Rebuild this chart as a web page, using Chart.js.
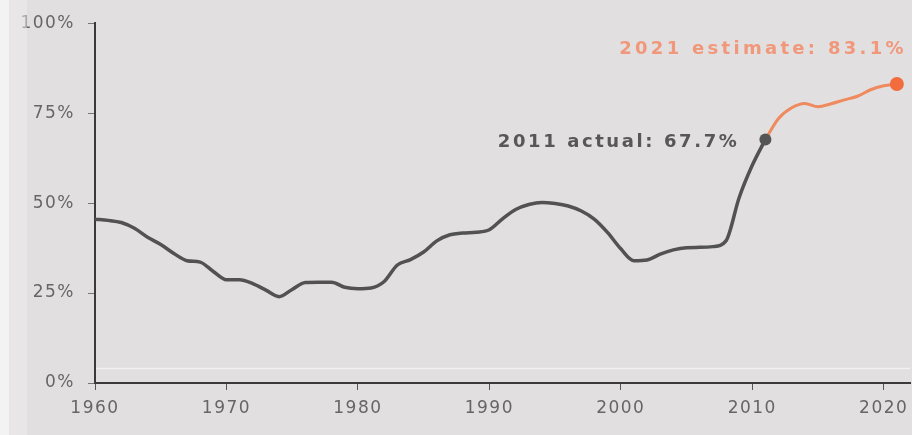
<!DOCTYPE html>
<html>
<head>
<meta charset="utf-8">
<script src="https://cdn.jsdelivr.net/npm/chart.js@4"></script>
<style>
    html, body {
        margin: 0;
        padding: 0;
        background: #ffffff;
    }
    #wrap {
        width: 919px;
        height: 435px;
    }
</style>
</head>
<body>
<div id="wrap">
    <canvas id="shareChart" width="919" height="435"></canvas>
</div>
<script>
// Actual share, 1960 - 2011
const actualYears = [
    1960, 1961, 1962, 1963, 1964, 1965, 1966, 1967, 1968, 1969,
    1970, 1971, 1972, 1973, 1974, 1975, 1976, 1977, 1978, 1979,
    1980, 1981, 1982, 1983, 1984, 1985, 1986, 1987, 1988, 1989,
    1990, 1991, 1992, 1993, 1994, 1995, 1996, 1997, 1998, 1999,
    2000, 2001, 2002, 2003, 2004, 2005, 2006, 2007, 2008, 2009,
    2010, 2011
];
const actualShare = [
    45.5, 45.2, 44.6, 43.0, 40.5, 38.5, 36.0, 34.0, 33.6, 31.0,
    28.7, 28.7, 27.6, 25.8, 24.0, 26.0, 27.9, 28.0, 28.0, 26.6,
    26.2, 26.4, 28.2, 32.8, 34.3, 36.4, 39.5, 41.2, 41.7, 41.9,
    42.6, 45.6, 48.2, 49.6, 50.2, 49.9, 49.2, 47.8, 45.5, 41.8,
    37.3, 34.0, 34.2, 35.8, 37.0, 37.6, 37.7, 37.9, 39.5, 51.5,
    60.5, 67.7
];

// Estimated share, 2011 - 2021
const estimateYears = [2011, 2012, 2013, 2014, 2015, 2016, 2017, 2018, 2019, 2020, 2021];
const estimateShare = [67.7, 73.5, 76.5, 77.7, 76.8, 77.6, 78.7, 79.7, 81.5, 82.6, 83.1];

const xTicks = [1960, 1970, 1980, 1990, 2000, 2010, 2020];
const yTicks = [0, 25, 50, 75, 100];

const actualLabel = "2011 actual: " + actualShare[actualShare.length - 1] + "%";
const estimateLabel = "2021 estimate: " + estimateShare[estimateShare.length - 1] + "%";

const grayLine = "#525252";
const orangeLine = "#ef8a5e";
const orangeDot = "#f26c3e";

function toPoints(xs, ys) {
    return xs.map((x, i) => ({ x: x, y: ys[i] }));
}

function lastOnly(size) {
    return ctx => ctx.dataIndex === ctx.dataset.data.length - 1 ? size : 0;
}

// Panel colour, the faint baseline rule and the light strip on the left edge
const panel = {
    id: "panel",
    beforeDraw(chart) {
        const c = chart.ctx;
        const area = chart.chartArea;
        c.save();
        c.fillStyle = "#e2dfe0";
        c.fillRect(0, 0, 912, chart.height);
        const ruleY = chart.scales.y.getPixelForValue(4);
        c.strokeStyle = "rgba(255,255,255,0.55)";
        c.lineWidth = 1.5;
        c.beginPath();
        c.moveTo(area.left, ruleY);
        c.lineTo(area.right, ruleY);
        c.stroke();
        c.restore();
        c.letterSpacing = "1.5px";
    },
    afterDraw(chart) {
        const c = chart.ctx;
        c.save();
        c.fillStyle = "rgba(246,245,245,0.9)";
        c.fillRect(0, 0, 9, chart.height);
        c.fillStyle = "rgba(240,238,238,0.5)";
        c.fillRect(9, 0, 18, chart.height);
        c.restore();
    }
};

// Value notes beside the two end points
const endNotes = {
    id: "endNotes",
    afterDatasetsDraw(chart) {
        const c = chart.ctx;
        const xs = chart.scales.x;
        const ys = chart.scales.y;
        c.save();
        c.font = "bold 18px 'DejaVu Sans'";
        c.letterSpacing = "2.6px";
        c.textBaseline = "middle";
        c.textAlign = "right";

        c.fillStyle = "#575757";
        c.fillText(actualLabel,
            xs.getPixelForValue(2011) - 26,
            ys.getPixelForValue(67.7) + 3);

        c.fillStyle = "#f1977a";
        c.letterSpacing = "3.3px";
        c.fillText(estimateLabel,
            xs.getPixelForValue(2021) + 10,
            ys.getPixelForValue(83.1) - 35);
        c.restore();
    }
};

const shareChart = new Chart(document.getElementById("shareChart"), {
    type: "line",
    data: {
        datasets: [
            {
                label: "Actual",
                data: toPoints(actualYears, actualShare),
                borderColor: grayLine,
                borderWidth: 3.5,
                cubicInterpolationMode: "monotone",
                pointRadius: lastOnly(6),
                pointBackgroundColor: "#555555",
                pointBorderWidth: 0,
                clip: false,
                order: 1
            },
            {
                label: "Estimate",
                data: toPoints(estimateYears, estimateShare),
                borderColor: orangeLine,
                borderWidth: 3,
                cubicInterpolationMode: "monotone",
                pointRadius: lastOnly(7),
                pointBackgroundColor: orangeDot,
                pointBorderWidth: 0,
                clip: false,
                order: 2
            }
        ]
    },
    options: {
        responsive: false,
        animation: false,
        events: [],
        layout: {
            padding: { left: 0, top: 21, right: 9, bottom: 0 }
        },
        plugins: {
            legend: { display: false },
            tooltip: { enabled: false }
        },
        scales: {
            x: {
                type: "linear",
                min: 1960,
                max: 2022,
                afterFit: scale => { scale.height = 52; },
                afterBuildTicks: scale => {
                    scale.ticks = xTicks.map(v => ({ value: v }));
                },
                border: { display: true, color: "#3a3a3a", width: 2 },
                grid: {
                    drawOnChartArea: false,
                    drawTicks: true,
                    tickLength: 7,
                    tickColor: "#555555"
                },
                ticks: {
                    autoSkip: false,
                    maxRotation: 0,
                    padding: 8,
                    color: "#666666",
                    font: { family: "'DejaVu Sans'", size: 17 },
                    callback: v => String(v)
                }
            },
            y: {
                min: 0,
                max: 100,
                afterFit: scale => { scale.width = 95; },
                afterBuildTicks: scale => {
                    scale.ticks = yTicks.map(v => ({ value: v }));
                },
                border: { display: true, color: "#3a3a3a", width: 2 },
                grid: {
                    drawOnChartArea: false,
                    drawTicks: true,
                    tickLength: 7,
                    tickColor: "#777777"
                },
                ticks: {
                    padding: 13,
                    color: "#666666",
                    font: { family: "'DejaVu Sans'", size: 17 },
                    callback: v => v + "%"
                }
            }
        }
    },
    plugins: [panel, endNotes]
});
</script>
</body>
</html>
